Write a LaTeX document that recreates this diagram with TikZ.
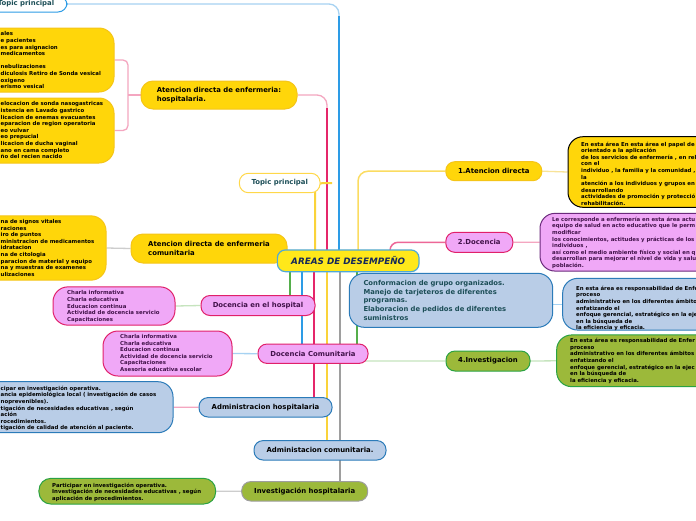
\documentclass[tikz,border=0pt]{standalone}
\usepackage{fontspec}
\setmainfont{DejaVu Sans}
\pgfdeclarelayer{bg}
\pgfsetlayers{bg,main}
\definecolor{gold}{HTML}{FFD60A}
\definecolor{goldb}{HTML}{F5C518}
\definecolor{cyel}{HTML}{FFE81A}
\definecolor{ctrb}{HTML}{4FA8D8}
\definecolor{cblue}{HTML}{2D9CE6}
\definecolor{cpink}{HTML}{E5266A}
\definecolor{cyelline}{HTML}{FAD33A}
\definecolor{cgreen}{HTML}{55AE4B}
\definecolor{cgray}{HTML}{9E9E9E}
\definecolor{pinkfill}{HTML}{F0A8F7}
\definecolor{pinkb}{HTML}{E0206A}
\definecolor{bluefill}{HTML}{B9CDE7}
\definecolor{blueb}{HTML}{2B7BB9}
\definecolor{olive}{HTML}{9CB93A}
\definecolor{greenb}{HTML}{2AA243}
\definecolor{purpleb}{HTML}{6B2A7C}
\definecolor{tealc}{HTML}{1C4E57}
\definecolor{navy}{HTML}{14285A}
\definecolor{dpurple}{HTML}{42124A}
\definecolor{yelb}{HTML}{FFD84A}
\definecolor{pinkl}{HTML}{F4A6C0}
\definecolor{grayl}{HTML}{CDCDCD}
\definecolor{greenl}{HTML}{C6E4BE}
\definecolor{bluel}{HTML}{A6D2F2}
\definecolor{yell}{HTML}{F8E398}
\begin{document}
\begin{tikzpicture}[x=1pt,y=-1pt,
  mn/.style={rounded corners=9pt, draw, line width=1pt, inner sep=0pt, text=black, font=\bfseries\fontsize{6.9}{8.6}\selectfont, align=left},
  bx/.style={rounded corners=15pt, draw, line width=1pt, inner sep=0pt},
  tx/.style={inner sep=0pt, anchor=north west, align=left, font=\bfseries\fontsize{5.4}{6.6}\selectfont},
  trunk/.style={line width=2pt},
  twig/.style={line width=1.3pt}]
\useasboundingbox (0,0) rectangle (696,520);
\begin{pgfonlayer}{bg}
\fill[white] (0,0) rectangle (696,520);
\end{pgfonlayer}
% helper positions
\coordinate (v128) at (128,0);
\coordinate (v290) at (290,0);
\coordinate (v302) at (302,0);
\coordinate (v314) at (314,0);
\coordinate (v315) at (315,0);
\coordinate (v327) at (327,0);
\coordinate (v339) at (339,0);
\coordinate (v340) at (340,0);
\coordinate (v357) at (357,0);
\coordinate (v358) at (358,0);
\coordinate (v390) at (390,0);
\coordinate (tick) at (332,183);
\coordinate (kb) at (339,16);
\coordinate (kp) at (327,108);
\coordinate (kg) at (357,352);

% main nodes
\node[mn, fill=white, draw=cblue, minimum width=82pt, minimum height=16pt, text=tealc] (tl) at (26,4) {Topic principal};
\node[mn, fill=white, draw=yelb, minimum width=80.7pt, minimum height=19.4pt, text=tealc] (tp) at (279.7,183) {Topic principal};
\node[mn, fill=gold, draw=goldb, minimum width=156pt, minimum height=28pt, rounded corners=12pt] (hosp) at (219,95) {Atencion directa de enfermeria:\\hospitalaria.};
\node[mn, fill=gold, draw=goldb, minimum width=156pt, minimum height=29pt, rounded corners=12pt] (comm) at (209,248.5) {Atencion directa de enfermeria\\comunitaria};
\node[mn, fill=pinkfill, draw=pinkb, minimum width=114pt, minimum height=20pt, text=dpurple] (dh) at (258,305.5) {Docencia en el hospital};
\node[mn, fill=pinkfill, draw=pinkb, minimum width=110pt, minimum height=19.4pt, text=dpurple] (dc) at (313,353.7) {Docencia Comunitaria};
\node[mn, fill=bluefill, draw=blueb, minimum width=133pt, minimum height=19.4pt] (ah) at (265.5,407.3) {Administracion hospitalaria};
\node[mn, fill=bluefill, draw=blueb, minimum width=132pt, minimum height=19.4pt] (acom) at (320,450.3) {Administacion comunitaria.};
\node[mn, fill=olive, draw=cgray, minimum width=126pt, minimum height=19.4pt] (ih) at (304.7,491.3) {Investigación hospitalaria};
\node[mn, fill=gold, draw=goldb, minimum width=96pt, minimum height=19pt] (ad1) at (493.8,171.2) {1.Atencion directa};
\node[mn, fill=pinkfill, draw=pinkb, minimum width=67pt, minimum height=20pt, text=dpurple] (d2) at (479.3,242.3) {2.Docencia};
\node[mn, fill=olive, draw=greenb, minimum width=84pt, minimum height=20pt] (inv4) at (488,361) {4.Investigacion};
\node[mn, fill=cyel, draw=ctrb, line width=1.2pt, minimum width=141.7pt, minimum height=21.7pt, rounded corners=8pt, text=navy, font=\bfseries\itshape\fontsize{8.8}{10}\selectfont] (ctr) at (348.2,260.8) {AREAS DE DESEMPEÑO};

% detail boxes
\node[bx, fill=gold, draw=goldb, minimum width=154pt, minimum height=64pt] (bA) at (37,60) {};
\node[bx, fill=gold, draw=goldb, minimum width=154pt, minimum height=65pt] (bB) at (37,130.5) {};
\node[bx, fill=gold, draw=goldb, minimum width=146pt, minimum height=64.3pt] (bC) at (33,248) {};
\node[bx, fill=pinkfill, draw=pinkb, minimum width=122pt, minimum height=38.3pt] (bD) at (114,306) {};
\node[bx, fill=pinkfill, draw=pinkb, minimum width=129pt, minimum height=45pt] (bE) at (167.5,353.5) {};
\node[bx, fill=bluefill, draw=blueb, minimum width=213pt, minimum height=51pt] (bF) at (66.5,407.2) {};
\node[bx, fill=olive, draw=greenb, minimum width=176.7pt, minimum height=25.7pt, rounded corners=12pt] (bG) at (127.3,491.2) {};
\node[bx, fill=gold, draw=black, minimum width=172pt, minimum height=70.6pt] (bH) at (654,172) {};
\node[bx, fill=pinkfill, draw=purpleb, minimum width=200pt, minimum height=57.7pt] (bI) at (640,242.2) {};
\node[bx, fill=bluefill, draw=blueb, minimum width=203.4pt, minimum height=54pt, text width=175pt, align=left, text=tealc, font=\bfseries\fontsize{6.8}{8.8}\selectfont] (bJ) at (451,300.3) {Conformacion de grupo organizados.\\Manejo de tarjeteros de diferentes\\programas.\\Elaboracion de pedidos de diferentes\\suministros};
\node[bx, fill=bluefill, draw=blueb, minimum width=177.3pt, minimum height=51.7pt] (bK) at (651.3,304.2) {};
\node[bx, fill=olive, draw=greenb, minimum width=183.3pt, minimum height=51.7pt] (bL) at (648.3,360.8) {};

% box texts
\node[tx] (tA) at (0.5,31.5) {ales\\e pacientes\\es para asignacion\\medicamentos\\\mbox{}\\nebulizaciones\\diculosis Retiro de Sonda vesical\\oxigeno\\erismo vesical};
\node[tx] (tB) at (0.5,101.5) {elocacion de sonda nasogastricas\\istencia en Lavado gastrico\\licacion de enemas evacuantes\\eparacion de region operatoria\\eo vulvar\\eo prepucial\\licacion de ducha vaginal\\ano en cama completo\\ño del recien nacido};
\node[tx] (tC) at (0.5,219.2) {na de signos vitales\\raciones\\iro de puntos\\ministracion de medicamentos\\idratacion\\na de citologia\\paracion de material y equipo\\na y muestras de examenes\\ulizaciones};
\node[tx, text=dpurple] (tD) at (67,290.5) {Charla informativa\\Charla educativa\\Educacion continua\\Actividad de docencia servicio\\Capacitaciones};
\node[tx, text=dpurple] (tE) at (120,334.2) {Charla informativa\\Charla educativa\\Educacion continua\\Actividad de docencia servicio\\Capacitaciones\\Asesoria educativa escolar};
\node[tx] (tF) at (0.5,385.8) {cipar en investigación operativa.\\ancia epidemiológica local ( investigación de casos\\noprevenibles).\\tigación de necesidades educativas , según\\ación\\rocedimientos.\\tigación de calidad de atención al paciente.};
\node[tx] (tG) at (52,482.5) {Participar en investigación operativa.\\Investigación de necesidades educativas , según\\aplicación de procedimientos.};
\node[tx] (tH) at (581,141.5) {En esta área En esta área el papel de\\orientado a la aplicación\\de los servicios de enfermería , en rel\\con el\\individuo , la familia y la comunidad ,\\la\\atención a los individuos y grupos en\\desarrollando\\actividades de promoción y protecció\\rehabilitación.};
\node[tx, text=dpurple] (tI) at (552,216.8) {Le corresponde a enfermería en esta área actu\\equipo de salud en acto educativo que le perm\\modificar\\los conocimientos, actitudes y prácticas de los\\individuos ,\\así como el medio ambiente físico y social en q\\desarrollan para mejorar el nivel de vida y salu\\población.};
\node[tx] (tK) at (576,285.8) {En esta área es responsabilidad de Enfe\\proceso\\administrativo en los diferentes ámbito\\enfatizando el\\enfoque gerencial, estratégico en la eje\\en la búsqueda de\\la eficiencia y eficacia.};
\node[tx] (tL) at (570,338.2) {En esta área es responsabilidad de Enfer\\proceso\\administrativo en los diferentes ámbitos\\enfatizando el\\enfoque gerencial, estratégico en la ejec\\en la búsqueda de\\la eficiencia y eficacia.};

% connectors
\begin{pgfonlayer}{bg}
\draw[twig, bluel, rounded corners=10pt] (tl.east) -- (tl.east -| v339) -- (kb);
\draw[trunk, cblue] (kb) -- (ctr.center -| v339);
\draw[twig, pinkl, rounded corners=10pt] (hosp.east) -- (hosp.east -| v327) -- (kp);
\draw[trunk, cpink] (kp) -- (ctr.center -| v327);
\draw[trunk, cyelline, rounded corners=8pt] (tick) -- (tick -| v315) -- (ctr.center -| v315);
\draw[line width=1.5pt, cyelline!80, rounded corners=10pt] (ad1.west) -- (ad1.west -| v358) -- (ctr.center -| v358);
\draw[line width=1.5pt, cpink!70, rounded corners=8pt] (d2.west) -- (d2.west -| v390) -- (ctr.center -| v390);
\draw[trunk, cgreen] (ctr.center -| v290) -- (dh.center -| v290);
\draw[trunk, cblue] (ctr.center -| v302) -- (dc.center -| v302);
\draw[trunk, cpink] (ctr.center -| v314) -- (ah.center -| v314);
\draw[trunk, cyelline] (ctr.center -| v327) -- (acom.center -| v327);
\draw[trunk, cgray] (ctr.center -| v340) -- (ih.center -| v340);
\draw[twig, greenl, rounded corners=8pt] (inv4.west) -- (inv4.west -| v357) -- (kg);
\draw[line width=1.7pt, cgreen] (ctr.center -| v357) -- (kg);
\draw[twig, pinkl] (hosp.west) -- (hosp.west -| v128);
\draw[twig, pinkl, rounded corners=5pt] (bA.east) -- (bA.east -| v128) -- (bB.east -| v128) -- (bB.east);
\draw[twig, grayl] (comm.west) -- (bC.east);
\draw[twig, greenl] (dh.west) -- (bD.east);
\draw[twig, bluel] (dc.west) -- (bE.east);
\draw[twig, pinkl] (ah.west) -- (bF.east);
\draw[twig, grayl] (ih.west) -- (bG.east);
\draw[twig, yell] (ad1.east) -- (bH.west);
\draw[twig, pinkl] (d2.east) -- (bI.west);
\draw[twig, bluel] (bK.west) -- (bK.west -| bJ.east);
\draw[twig, greenl] (inv4.east) -- (bL.west);
\end{pgfonlayer}
\end{tikzpicture}
\end{document}
